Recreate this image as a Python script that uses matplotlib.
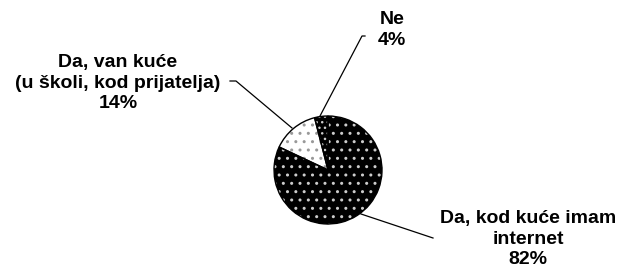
import matplotlib
matplotlib.use("Agg")
import matplotlib.pyplot as plt

labels = ["Da, kod kuće imam\ninternet\n82%", "Da, van kuće\n(u školi, kod prijatelja)\n14%", "Ne\n4%"]
values = [82, 14, 4]

plt.rcParams['font.family'] = ['Liberation Sans', 'DejaVu Sans']
plt.rcParams['hatch.linewidth'] = 1.0

W, H = 625, 271
fig = plt.figure(figsize=(6.25, 2.71), dpi=100)
ax = fig.add_axes([0, 0, 1, 1])

center = (328, H - 170)
radius = 54

faces = ['black', 'white', 'black']
dotcols = ['#cccccc', '#999999', '#cccccc']
hatches = ['..', '..', '...']

wedges, _ = ax.pie(values, startangle=90, counterclock=False, center=center,
                   radius=radius, colors=faces, frame=True,
                   wedgeprops=dict(linewidth=0))
for w, dc, h in zip(wedges, dotcols, hatches):
    w.set_edgecolor(dc)
    w.set_hatch(h)
# outline overlay
ax.pie(values, startangle=90, counterclock=False, center=center, radius=radius,
       frame=True, wedgeprops=dict(fill=False, edgecolor='black', linewidth=1.0))
ax.set_xlim(0, W)
ax.set_ylim(0, H)
ax.set_aspect('equal')
ax.axis('off')

def px(x, y):
    return (x, H - y)

tkw = dict(ha='center', va='center', fontsize=14, fontweight='bold', linespacing=1.25)
ax.text(*px(118, 83), labels[1], **tkw)
ax.text(*px(392, 30), labels[2], **tkw)
ax.text(*px(528, 239), labels[0], **tkw)

def leader(pts):
    xs = [p[0] for p in pts]
    ys = [H - p[1] for p in pts]
    ax.plot(xs, ys, color='black', lw=0.9)

leader([(230, 81), (236, 81), (292, 128)])
leader([(365, 36), (362, 36), (320, 116)])
leader([(361, 214), (433, 238)])

fig.savefig("out.png", dpi=100)
